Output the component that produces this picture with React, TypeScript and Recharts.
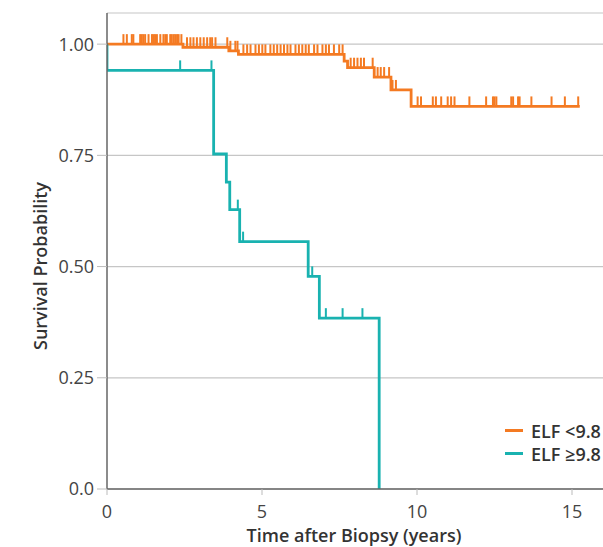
import {
  ComposedChart,
  Line,
  Scatter,
  XAxis,
  YAxis,
  CartesianGrid,
} from "recharts";

// step curves: time of each step (years) and survival after it
const lowTimes = [0, 2.45, 3.93, 4.24, 7.65, 7.76, 8.62, 9.16, 9.81, 15.25];
const lowSurv = [1.0, 0.993, 0.985, 0.977, 0.962, 0.947, 0.926, 0.897, 0.86, 0.86];
const lowCensored = [
  0.53, 0.64, 0.8, 0.85, 1.07, 1.12, 1.17, 1.23, 1.34, 1.45, 1.5, 1.55, 1.61,
  1.72, 1.82, 1.88, 1.93, 2.04, 2.09, 2.15, 2.2, 2.26, 2.31, 2.4, 2.58, 2.69,
  2.79, 2.9, 3.01, 3.12, 3.23, 3.33, 3.39, 3.5, 3.88, 3.98, 4.14, 4.21, 4.4,
  4.52, 4.63, 4.79, 4.9, 5.01, 5.11, 5.27, 5.38, 5.49, 5.6, 5.71, 5.82, 5.92,
  6.08, 6.19, 6.3, 6.41, 6.51, 6.68, 6.79, 6.95, 7.06, 7.16, 7.32, 7.49, 7.6,
  7.86, 7.97, 8.08, 8.19, 8.29, 8.57, 8.73, 8.83, 8.94, 9.1, 9.21, 9.32, 10.02,
  10.13, 10.51, 10.61, 10.78, 10.99, 11.1, 11.21, 11.69, 12.23, 12.45, 12.5,
  12.56, 13.04, 13.1, 13.26, 13.31, 13.69, 14.34, 14.77, 15.2,
];

const highTimes = [0, 0, 3.44, 3.85, 3.96, 4.28, 6.49, 6.85, 8.78];
const highSurv = [1.0, 0.941, 0.753, 0.69, 0.628, 0.556, 0.478, 0.384, 0];
const highCensored = [2.36, 3.37, 4.22, 4.39, 6.62, 7.06, 7.6, 8.24];

const yTicks = [0, 0.25, 0.5, 0.75, 1];
const xTicks = [0, 5, 10, 15];

const ORANGE = "#f47a22";
const TEAL = "#19b2b0";
const FONT = "'Open Sans', sans-serif";

const toSteps = (times: number[], surv: number[]) =>
  times.map((t, i) => ({ t, s: surv[i] }));

// survival level at a censoring time
const levelAt = (times: number[], surv: number[], t: number) => {
  let s = surv[0];
  times.forEach((tt, i) => {
    if (tt <= t) s = surv[i];
  });
  return s;
};

const toCensor = (cens: number[], times: number[], surv: number[]) =>
  cens.map((t) => ({ t, s: levelAt(times, surv, t) }));

const lowData = toSteps(lowTimes, lowSurv);
const highData = toSteps(highTimes, highSurv);
const lowCens = toCensor(lowCensored, lowTimes, lowSurv);
const highCens = toCensor(highCensored, highTimes, highSurv);

const censorShape = (color: string) => (props: any) => {
  const { cx, cy } = props;
  return (
    <line x1={cx} x2={cx} y1={cy} y2={cy - 10} stroke={color} strokeWidth={2} />
  );
};

const legendItems = [
  { name: "ELF <9.8", color: ORANGE },
  { name: "ELF \u22659.8", color: TEAL },
];

const yLabel = () => (
  <text
    x={40}
    y={266}
    transform="rotate(-90 40 266)"
    textAnchor="middle"
    dominantBaseline="central"
    fontFamily={FONT}
    fontSize={18}
    fontWeight={600}
    fill="#333"
  >
    Survival Probability
  </text>
);

const xLabel = () => (
  <text
    x={354}
    y={542}
    textAnchor="middle"
    fontFamily={FONT}
    fontSize={18}
    fontWeight={600}
    fill="#333"
  >
    Time after Biopsy (years)
  </text>
);

export default function App() {
  return (
    <div style={{ position: "absolute", left: 0, top: 0, width: 603, height: 547 }}>
      <ComposedChart
        width={603}
        height={547}
        margin={{ top: 13, right: 0, bottom: 0, left: 0 }}
      >
        <CartesianGrid vertical={false} stroke="#c6c6c6" strokeWidth={1.2} />
        <XAxis
          type="number"
          dataKey="t"
          domain={[0, 16]}
          ticks={xTicks}
          allowDataOverflow
          height={58}
          tickSize={6}
          tickMargin={10}
          axisLine={{ stroke: "#666", strokeWidth: 1.5 }}
          tickLine={{ stroke: "#bbb" }}
          tick={{ fill: "#444", fontSize: 18, fontFamily: FONT }}
          label={xLabel}
        />
        <YAxis
          type="number"
          dataKey="s"
          domain={[0, 1.07]}
          ticks={yTicks}
          allowDataOverflow
          width={107}
          tickSize={10}
          tickMargin={3}
          tickFormatter={(v: number) => (v === 0 ? "0.0" : v.toFixed(2))}
          axisLine={{ stroke: "#666", strokeWidth: 1.5 }}
          tickLine={{ stroke: "#bbb" }}
          tick={{ fill: "#444", fontSize: 18, fontFamily: FONT }}
          label={yLabel}
        />
        <Line
          data={lowData}
          dataKey="s"
          type="stepAfter"
          stroke={ORANGE}
          strokeWidth={2.8}
          dot={false}
          isAnimationActive={false}
        />
        <Line
          data={highData}
          dataKey="s"
          type="stepAfter"
          stroke={TEAL}
          strokeWidth={2.8}
          dot={false}
          isAnimationActive={false}
        />
        <Scatter
          data={lowCens}
          dataKey="s"
          shape={censorShape(ORANGE)}
          isAnimationActive={false}
        />
        <Scatter
          data={highCens}
          dataKey="s"
          shape={censorShape(TEAL)}
          isAnimationActive={false}
        />
      </ComposedChart>
      <div
        style={{
          position: "absolute",
          left: 505,
          top: 419,
          width: 98,
          fontFamily: FONT,
        }}
      >
        {legendItems.map((it) => (
          <div
            key={it.name}
            style={{ display: "flex", alignItems: "center", height: 23 }}
          >
            <div
              style={{
                width: 18,
                height: 2.8,
                background: it.color,
                marginRight: 8,
                flexShrink: 0,
              }}
            />
            <span
              style={{
                fontSize: 18,
                fontWeight: 600,
                color: "#333",
                whiteSpace: "nowrap",
              }}
            >
              {it.name}
            </span>
          </div>
        ))}
      </div>
    </div>
  );
}
